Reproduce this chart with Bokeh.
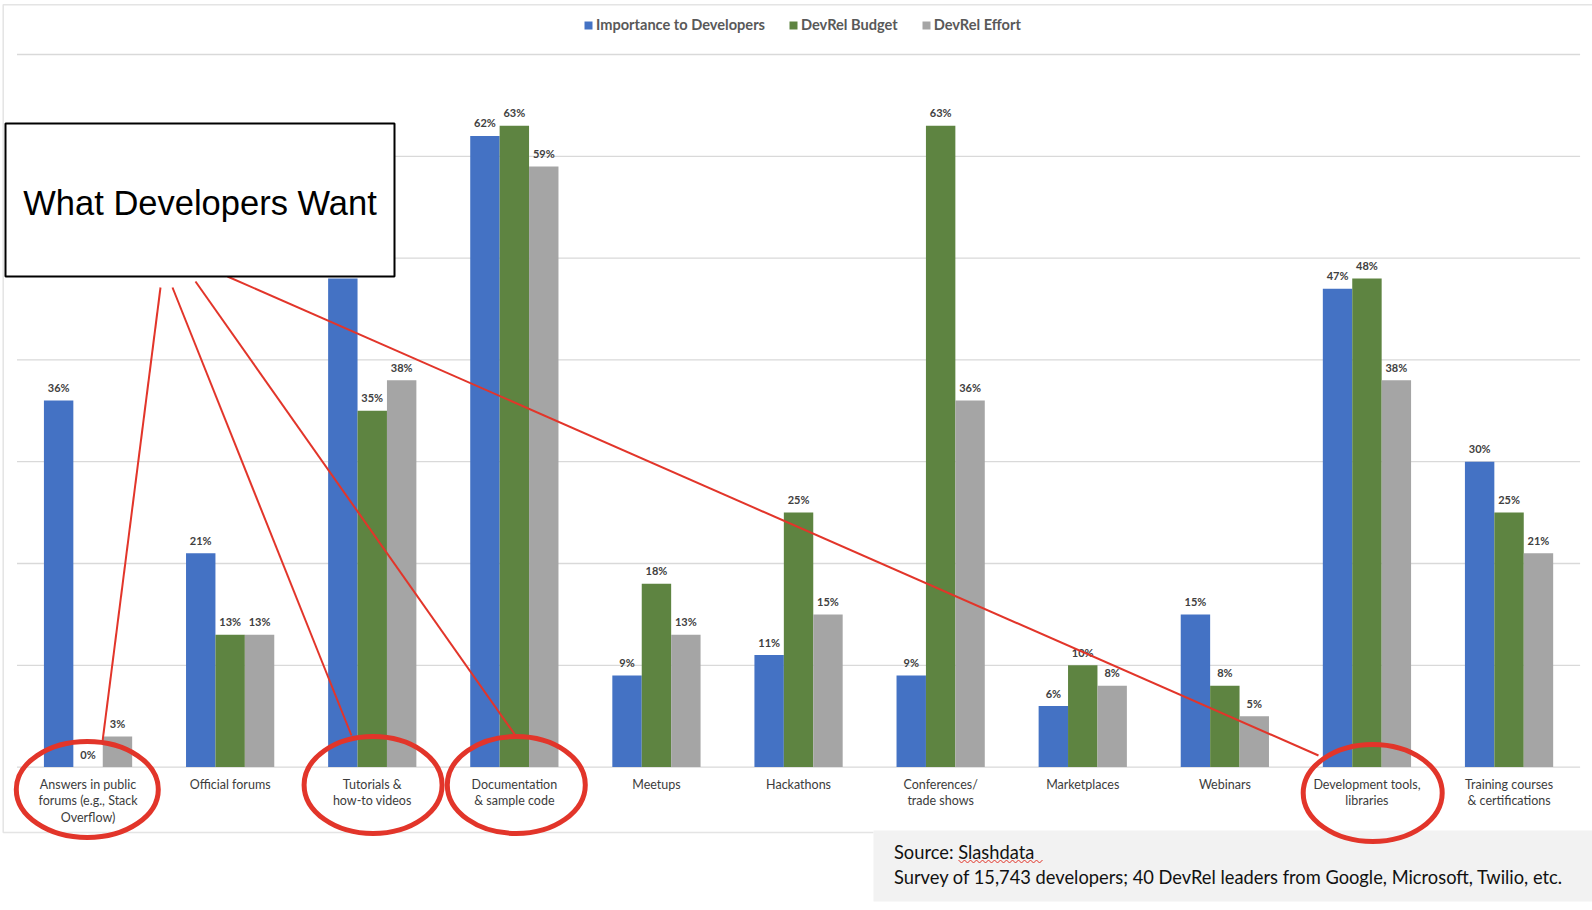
import numpy as np
from bokeh.plotting import figure
from bokeh.models import Range1d, Legend, LegendItem
from bokeh.core.properties import value
from bokeh.embed import file_html
from bokeh.resources import INLINE

# ---------------- data ----------------
categories = [
    "Answers in public\nforums (e.g., Stack\nOverflow)",
    "Official forums",
    "Tutorials &\nhow-to videos",
    "Documentation\n& sample code",
    "Meetups",
    "Hackathons",
    "Conferences/\ntrade shows",
    "Marketplaces",
    "Webinars",
    "Development tools,\nlibraries",
    "Training courses\n& certifications",
]
importance = [36, 21, 48, 62, 9, 11, 9, 6, 15, 47, 30]
budget = [0, 13, 35, 63, 18, 25, 63, 10, 8, 48, 25]
effort = [3, 13, 38, 59, 13, 15, 36, 8, 5, 38, 21]
series_names = ["Importance to Developers", "DevRel Budget", "DevRel Effort"]
y_ticks = [0, 10, 20, 30, 40, 50, 60, 70]
highlighted = [0, 2, 3, 9]
box_title = "What Developers Want"
source_lines = [
    "Source: Slashdata",
    "Survey of 15,743 developers; 40 DevRel leaders from Google, Microsoft, Twilio, etc.",
]

# ---------------- styling / layout ----------------
BLUE, GREEN, GREY = "#4472C4", "#5E8441", "#A5A5A5"
RED = "#E2352A"
W, H = 1592, 910
X0, CW = 16.5, 142.1      # px of category 0 left edge, px per category
Y0, PPU = 766.6, 10.18    # px of 0 %, px per 1 %


def X(px):
    return (px - X0) / CW


def Y(py):
    return (Y0 - py) / PPU


p = figure(width=W, height=H,
           x_range=Range1d(X(0), X(W)), y_range=Range1d(Y(H), Y(0)),
           x_axis_location=None, y_axis_location=None,
           toolbar_location=None, output_backend="svg", min_border=0)
p.grid.visible = False
p.outline_line_color = None
p.background_fill_color = "white"

# chart border (light)
p.line(x=[X(873), X(2.7), X(2.7), X(W + 5)], y=[Y(832), Y(832), Y(4.3), Y(4.3)],
       line_color="#e4e4e4", line_width=1.5)

# gridlines
n = len(categories)
p.segment(x0=[0] * len(y_ticks), x1=[n] * len(y_ticks), y0=y_ticks, y1=y_ticks,
          line_color="#d9d9d9", line_width=1.3)

idx = np.arange(n) + 0.5
bw = 0.207
renderers = []
for vals, off, col in [(importance, -bw, BLUE), (budget, 0.0, GREEN), (effort, bw, GREY)]:
    r = p.vbar(x=idx + off, top=vals, width=bw, bottom=0, fill_color=col, line_color=None)
    renderers.append(r)
    p.text(x=idx + off, y=vals, text=[f"{v}%" for v in vals],
           text_font=value("Lato"), text_font_style="bold", text_font_size="11px",
           text_color="#404040", text_align="center", text_baseline="alphabetic",
           y_offset=-13)

# category labels
p.text(x=idx, y=[Y(776)] * n, text=categories, text_align="center", text_baseline="top",
       text_font=value("Lato"), text_font_size="12.5px", text_color="#3c3c3c",
       text_line_height=1.11)

# source box (under the red marks)
p.quad(left=[X(873)], right=[X(W + 5)], top=[Y(830)], bottom=[Y(901)],
       fill_color="#f2f2f2", line_color=None)
p.text(x=[X(893.5)] * 2, y=[Y(851), Y(876)], text=source_lines,
       text_font=value("Lato"), text_font_size="18.3px", text_color="#111111",
       text_baseline="middle", text_align="left")
sq_px = np.arange(958, 1044, 3.0)
sq_py = 861 + 1.5 * np.where(np.arange(len(sq_px)) % 2 == 0, -1, 1)
p.line(x=[X(v) for v in sq_px], y=[Y(v) for v in sq_py], line_color=RED, line_width=1)

# red pointer lines
lx0 = [X(160), X(172), X(195), X(227)]
ly0 = [Y(287), Y(287), Y(281), Y(276)]
lx1 = [X(102), X(351), X(515), X(1318)]
ly1 = [Y(741), Y(735), Y(735), Y(755)]
p.segment(x0=lx0, y0=ly0, x1=lx1, y1=ly1, line_color=RED, line_width=2)

# red circles around highlighted categories
ex = [X(86.8), X(372.6), X(515.8), X(1372.2)]
ey = [Y(789), Y(784.5), Y(784.5), Y(792.5)]
p.ellipse(x=ex, y=ey, width=[142, 138, 138, 139], height=[96, 97, 97, 97],
          width_units="screen", height_units="screen",
          fill_color=None, line_color=RED, line_width=5)

# title box
p.quad(left=[X(5)], right=[X(394)], top=[Y(123)], bottom=[Y(276)],
       fill_color="white", line_color="black", line_width=2)
p.text(x=[X(199.5)], y=[Y(202)], text=[box_title], text_align="center",
       text_baseline="middle", text_font=value("Liberation Sans"),
       text_font_size="34.5px", text_color="black")

# legend
legend = Legend(items=[LegendItem(label=nm, renderers=[r]) for nm, r in zip(series_names, renderers)],
                orientation="horizontal", location=(583, H - 33.4),
                glyph_width=10, glyph_height=10, label_standoff=3, spacing=23,
                padding=0, margin=0, border_line_color=None, background_fill_alpha=0,
                label_text_font="Lato", label_text_font_style="bold",
                label_text_font_size="14.6px", label_text_color="#595959", label_height=16)
p.add_layout(legend)

open("out.html", "w").write(file_html(p, INLINE))
